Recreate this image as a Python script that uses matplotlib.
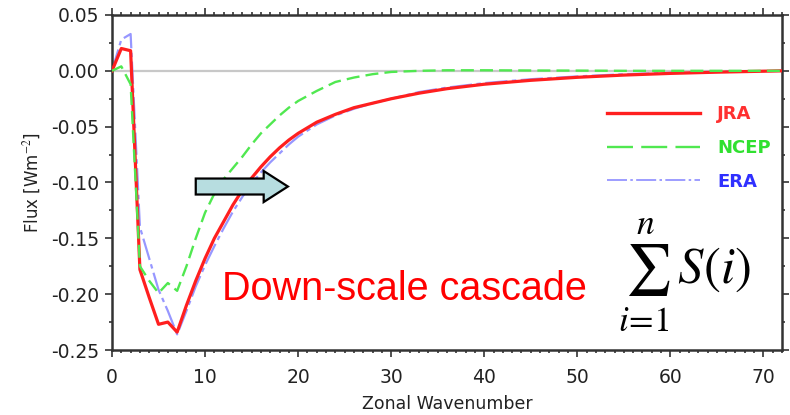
import numpy as np
import matplotlib
matplotlib.use("Agg")
import matplotlib.pyplot as plt
from matplotlib.lines import Line2D
from matplotlib.patches import FancyArrow
from matplotlib.ticker import MultipleLocator, FormatStrFormatter

# ---- data ----
wavenumber = [0, 1, 2, 3, 4, 5, 6, 7, 8, 9, 10, 11, 12, 13, 14, 15, 16, 17, 18, 19, 20,
              22, 24, 26, 28, 30, 33, 36, 40, 45, 50, 55, 60, 65, 72]
jra = [0.0, 0.020, 0.018, -0.178, -0.203, -0.227, -0.225, -0.234, -0.210, -0.188, -0.168,
       -0.150, -0.135, -0.120, -0.107, -0.096, -0.086, -0.077, -0.069, -0.062, -0.056,
       -0.046, -0.039, -0.033, -0.029, -0.025, -0.020, -0.016, -0.012, -0.0085, -0.0058,
       -0.0038, -0.0023, -0.0012, 0.0]
ncep = [0.0, 0.004, -0.012, -0.175, -0.188, -0.199, -0.190, -0.197, -0.175, -0.150, -0.127,
        -0.110, -0.097, -0.087, -0.077, -0.066, -0.056, -0.048, -0.040, -0.033, -0.027,
        -0.018, -0.010, -0.006, -0.003, -0.001, 0.0, 0.0005, 0.0005, 0.0003, 0.0002,
        0.0, 0.0, 0.0, 0.0]
era = [0.0, 0.028, 0.033, -0.140, -0.168, -0.196, -0.215, -0.236, -0.215, -0.193, -0.174,
       -0.157, -0.141, -0.126, -0.113, -0.101, -0.091, -0.082, -0.074, -0.066, -0.059,
       -0.048, -0.040, -0.034, -0.029, -0.025, -0.019, -0.015, -0.011, -0.0075, -0.005,
       -0.003, -0.0018, -0.0008, 0.0]
series_names = ["JRA", "NCEP", "ERA"]
x_ticks = [0, 10, 20, 30, 40, 50, 60, 70]
y_ticks = [-0.25, -0.20, -0.15, -0.10, -0.05, 0.00, 0.05]
annotation = "Down-scale cascade"

# ---- figure ----
W, H = 790, 415
plt.rcParams["mathtext.fontset"] = "stix"
fig = plt.figure(figsize=(W / 100, H / 100), dpi=100)
ax = fig.add_axes([112 / W, 1 - 350 / H, 670 / W, 335 / H])

red = "#ff1f1f"
green = "#50e850"
blue = "#8c8cff"

ax.axhline(0, color="#c8c8c8", lw=1.6, zorder=1)
ax.plot(wavenumber, era, color=blue, lw=1.6, dashes=(10, 2, 2, 2), zorder=2, alpha=0.9)
ax.plot(wavenumber, jra, color=red, lw=2.3, zorder=3)
ax.plot(wavenumber, ncep, color=green, lw=1.7, dashes=(5.5, 2.6), zorder=4)

ax.set_xlim(0, 72)
ax.set_ylim(-0.25, 0.05)
ax.set_xticks(x_ticks)
ax.set_yticks(y_ticks)
ax.yaxis.set_major_formatter(FormatStrFormatter("%.2f"))
ax.xaxis.set_minor_locator(MultipleLocator(1))
ax.yaxis.set_minor_locator(MultipleLocator(0.025))
ax.tick_params(which="both", direction="out", top=True, right=True, color="#333333",
               width=1.2)
ax.tick_params(which="major", length=5, labelsize=13.5, labelcolor="#222222")
ax.tick_params(axis="y", which="major", pad=4)
ax.tick_params(axis="x", which="major", pad=8)
ax.tick_params(which="minor", length=2.5)
for sp in ax.spines.values():
    sp.set_color("#333333")
    sp.set_linewidth(1.8)

ax.set_xlabel("Zonal Wavenumber", fontsize=12.5, color="#222222", labelpad=6)
ax.set_ylabel("Flux [Wm$^{-2}$]", fontsize=12, color="#222222", labelpad=6)

# legend
handles = [
    Line2D([], [], color=red, lw=2.4),
    Line2D([], [], color=green, lw=1.7, dashes=(11, 3.5)),
    Line2D([], [], color=blue, lw=1.2, dashes=(12, 2, 1.5, 2)),
]
leg = ax.legend(handles, series_names, loc="upper left",
                bbox_to_anchor=((607 - 112) / 670, (350 - 105) / 335),
                frameon=False, handlelength=5.15, handletextpad=0.95, labelspacing=0.88,
                borderpad=0, borderaxespad=0,
                prop={"size": 13, "weight": "bold"})
for txt, c in zip(leg.get_texts(), ["#ff3030", "#30e030", "#3030ff"]):
    txt.set_color(c)

# arrow
ax.add_patch(FancyArrow(9.0, -0.1036, 9.9, 0, width=0.0143, head_width=0.0278,
                        head_length=2.6, length_includes_head=True,
                        facecolor="#b7dde0", edgecolor="black", lw=1.6, zorder=6))

# annotation texts
fig.text(222 / W, 1 - 300 / H, annotation, color="red", fontsize=28.5,
         family="Liberation Sans", va="baseline", ha="left")
fig.text(618 / W, 1 - 283 / H, r"$\sum_{i\!=\!1}^{n}\,S(i)$", color="black",
         fontsize=36.5, va="baseline", ha="left")

fig.savefig("out.png", dpi=100)
